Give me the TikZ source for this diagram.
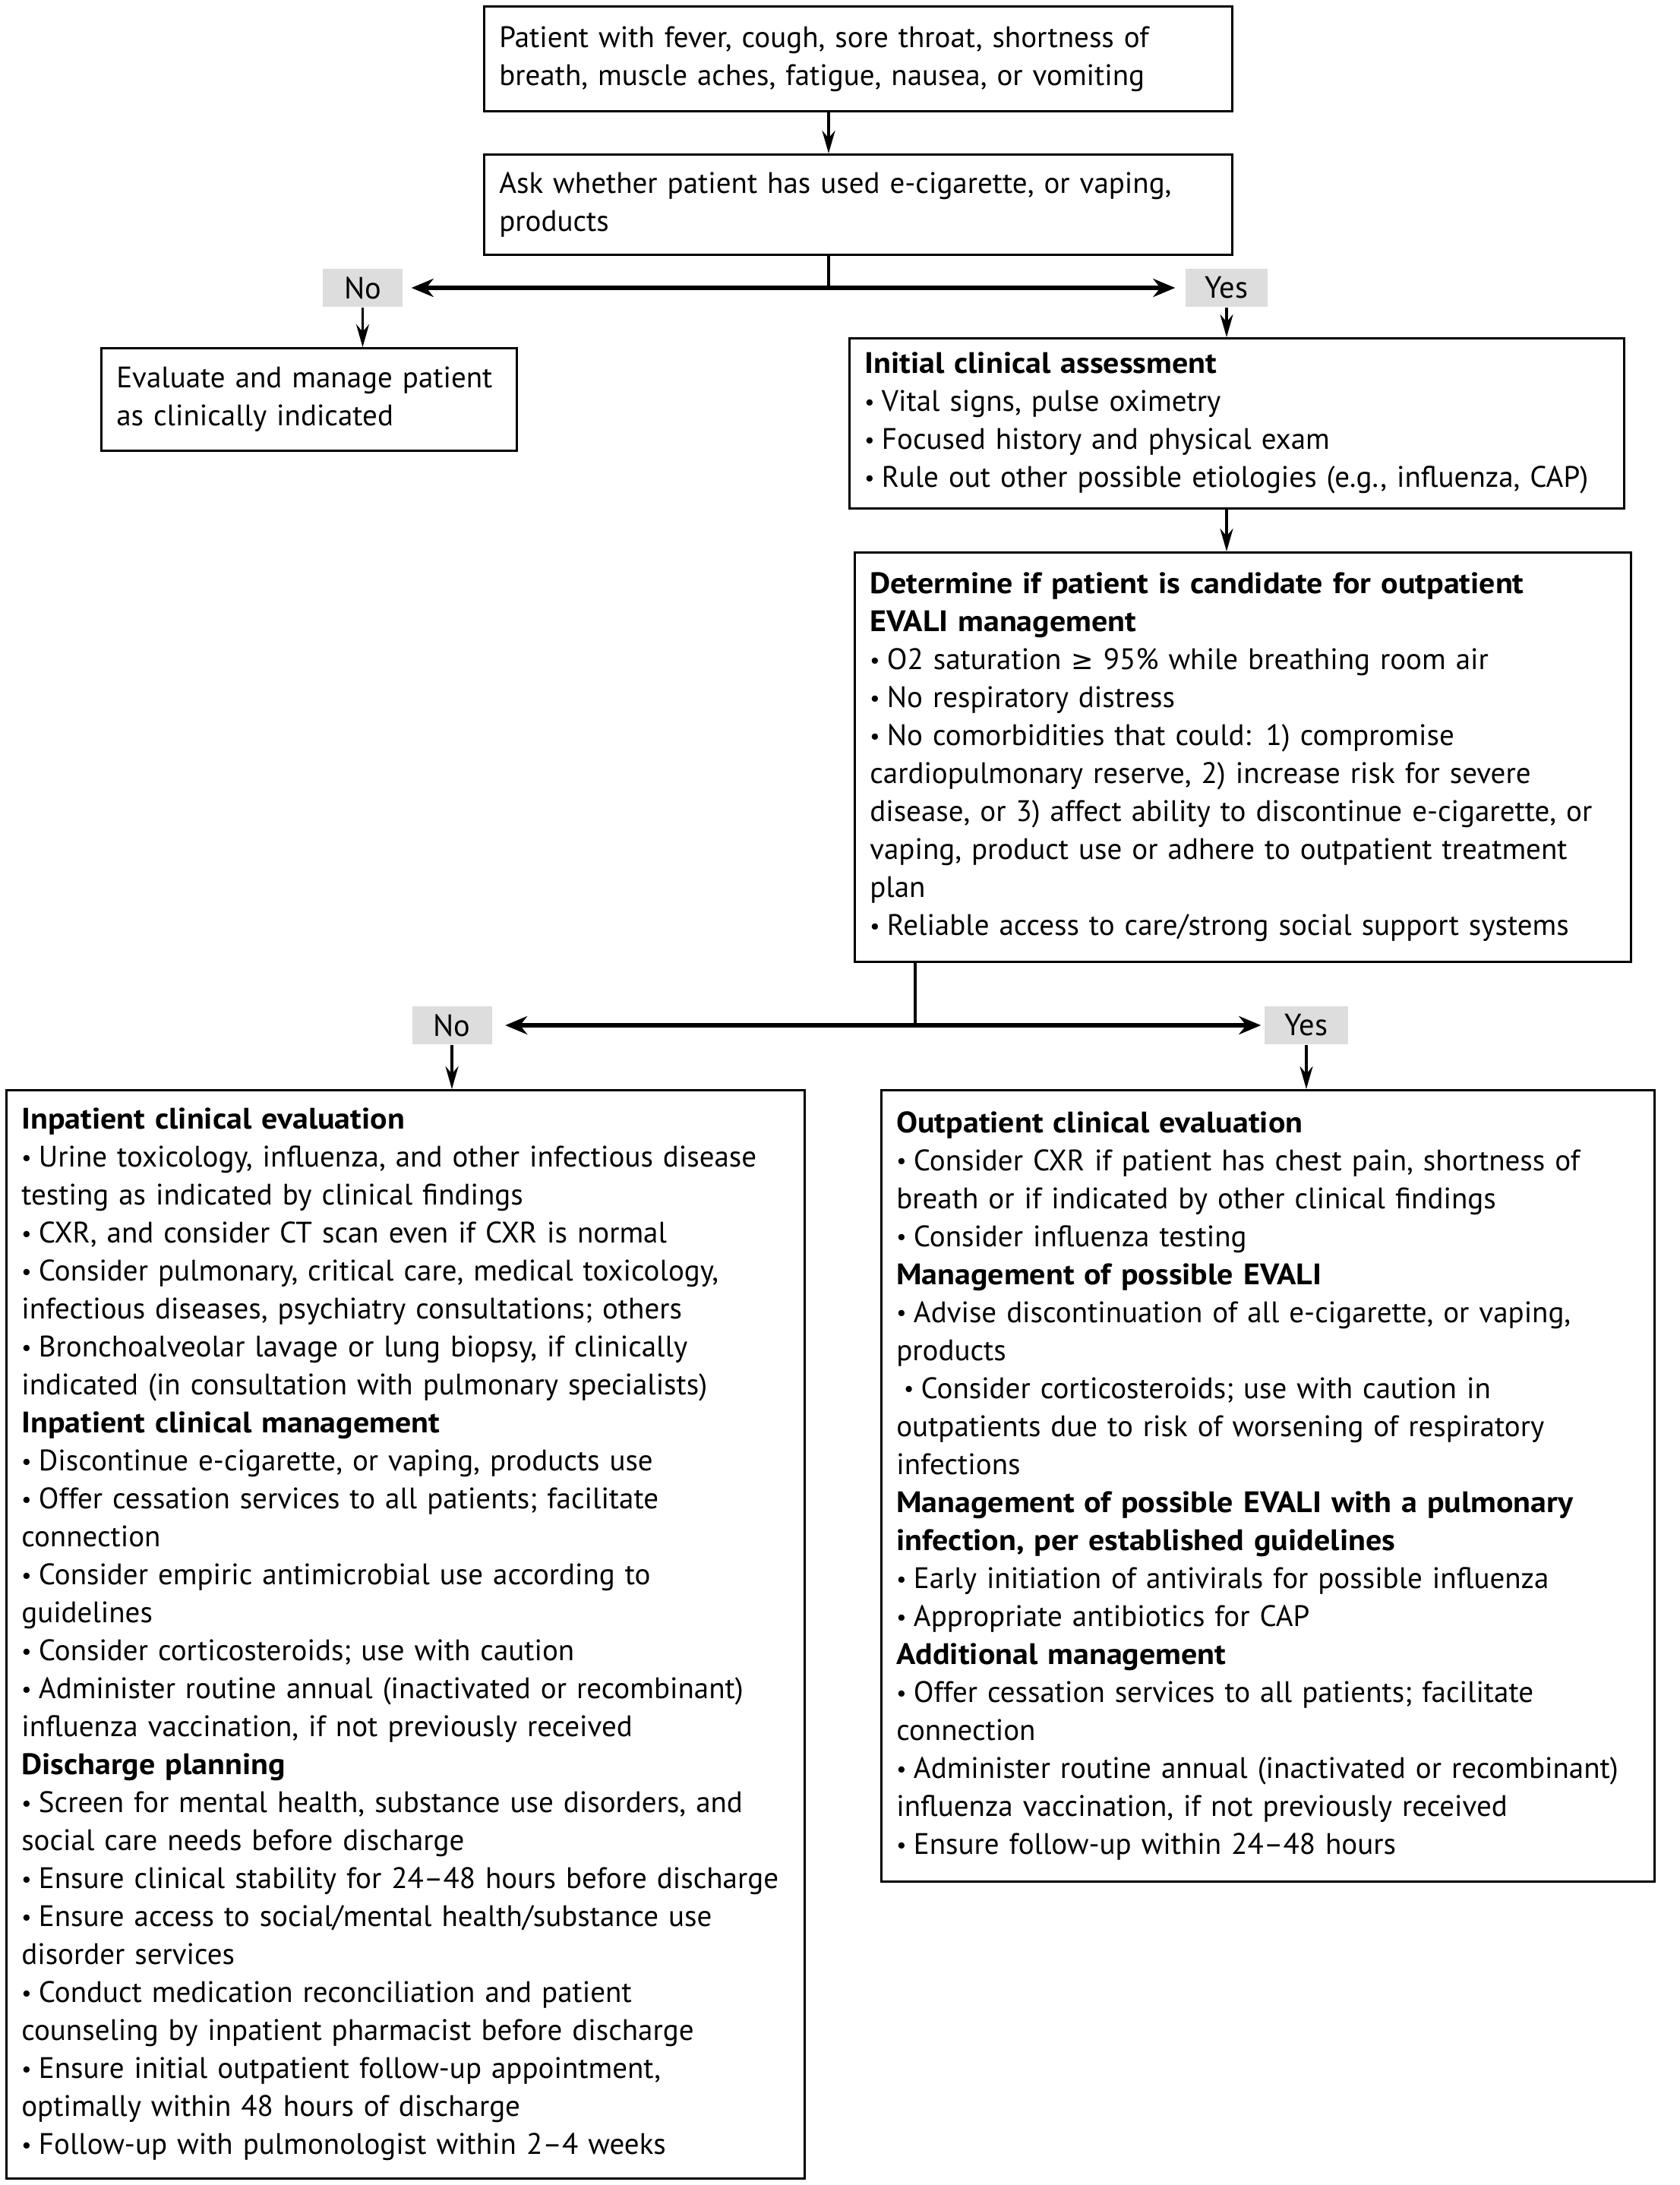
\documentclass[tikz,border=0pt]{standalone}
\usepackage{fontspec}
\setmainfont{PT Sans}[BoldFeatures={FakeStretch=1.075}]
\newfontfamily\symfont[Scale=0.9]{DejaVu Sans}
\usetikzlibrary{arrows.meta}
\definecolor{lblgray}{RGB}{221,221,221}
\newcommand{\bul}{\makebox[0.58em][l]{\raisebox{0.12ex}{\scalebox{0.75}{•}}}}

\begin{document}
\begin{tikzpicture}[x=1cm,y=-1cm,
    box/.style={draw,line width=0.75pt,anchor=north west,align=left,inner xsep=0.2cm,inner ysep=0pt,
      font=\fontsize{11.1}{14.23}\selectfont},
    lbl/.style={fill=lblgray,minimum height=0.5cm,inner sep=0pt,font=\fontsize{11.5}{12}\selectfont},
    stem/.style={line width=1.1pt},
    arr/.style={line width=1pt,-{Stealth[length=0.3cm,width=0.17cm]}},
    fork/.style={line width=1.7pt,{Stealth[length=0.29cm,width=0.24cm]}-{Stealth[length=0.29cm,width=0.24cm]}}]
  \useasboundingbox (0,0) rectangle (22.12,28.77);

  % top of the chart
  \node[box,text width=9.45cm,minimum height=1.38cm] (patient) at (6.36,0.07)
    {Patient with fever, cough, sore throat, shortness of\\breath, muscle aches, fatigue, nausea, or vomiting};
  \node[box,text width=9.45cm,minimum height=1.32cm] (ask) at (6.36,2.02)
    {Ask whether patient has used e-cigarette, or vaping,\\products};
  \draw[arr] (patient.south -| 10.91,0) -- (ask.north -| 10.91,0);

  % first decision
  \node[lbl,minimum width=1.05cm] (no1) at (4.775,3.79) {No};
  \node[lbl,minimum width=1.08cm] (yes1) at (16.15,3.79) {Yes};
  \coordinate (split1) at (10.91,3.79);
  \draw[stem] (split1 |- ask.south) -- (split1);
  \draw[fork,shorten <=0.11cm,shorten >=0.13cm] (no1.east) -- (yes1.west);

  \node[box,text width=5.07cm,minimum height=1.35cm] (eval) at (1.32,4.57)
    {Evaluate and manage patient\\as clinically indicated};
  \node[box,text width=9.80cm,minimum height=2.24cm] (init) at (11.17,4.44)
    {\textbf{Initial clinical assessment}\\
     \bul Vital signs, pulse oximetry\\
     \bul Focused history and physical exam\\
     \bul Rule out other possible etiologies (e.g., influenza, CAP)};
  \draw[arr] (no1.south) -- (no1.south |- eval.north);
  \draw[arr] (yes1.south) -- (yes1.south |- init.north);

  \node[box,text width=9.82cm,minimum height=5.39cm] (det) at (11.24,7.26)
    {\textbf{Determine if patient is candidate for outpatient}\\
     \textbf{EVALI management}\\
     \bul O2 saturation {\symfont ≥} 95\% while breathing room air\\
     \bul No respiratory distress\\
     \bul No comorbidities that could: 1) compromise\\
     cardiopulmonary reserve, 2) increase risk for severe\\
     disease, or 3) affect ability to discontinue e-cigarette, or\\
     vaping, product use or adhere to outpatient treatment\\
     plan\\
     \bul Reliable access to care/strong social support systems};
  \draw[arr] (yes1.south |- init.south) -- (yes1.south |- det.north);

  % second decision
  \node[lbl,minimum width=1.05cm] (no2) at (5.95,13.50) {No};
  \node[lbl,minimum width=1.10cm] (yes2) at (17.20,13.50) {Yes};
  \coordinate (split2) at (12.05,13.50);
  \draw[stem] (split2 |- det.south) -- (split2);
  \draw[fork,shorten <=0.17cm,shorten >=0.04cm] (no2.east) -- (yes2.west);

  \node[box,text width=10.11cm,minimum height=14.33cm] (inpat) at (0.07,14.34)
    {\textbf{Inpatient clinical evaluation}\\
     \bul Urine toxicology, influenza, and other infectious disease\\
     testing as indicated by clinical findings\\
     \bul CXR, and consider CT scan even if CXR is normal\\
     \bul Consider pulmonary, critical care, medical toxicology,\\
     infectious diseases, psychiatry consultations; others\\
     \bul Bronchoalveolar lavage or lung biopsy, if clinically\\
     indicated (in consultation with pulmonary specialists)\\
     \textbf{Inpatient clinical management}\\
     \bul Discontinue e-cigarette, or vaping, products use\\
     \bul Offer cessation services to all patients; facilitate\\
     connection\\
     \bul Consider empiric antimicrobial use according to\\
     guidelines\\
     \bul Consider corticosteroids; use with caution\\
     \bul Administer routine annual (inactivated or recombinant)\\
     influenza vaccination, if not previously received\\
     \textbf{Discharge planning}\\
     \bul Screen for mental health, substance use disorders, and\\
     social care needs before discharge\\
     \bul Ensure clinical stability for 24–48 hours before discharge\\
     \bul Ensure access to social/mental health/substance use\\
     disorder services\\
     \bul Conduct medication reconciliation and patient\\
     counseling by inpatient pharmacist before discharge\\
     \bul Ensure initial outpatient follow-up appointment,\\
     optimally within 48 hours of discharge\\
     \bul Follow-up with pulmonologist within 2–4 weeks};
  \node[box,text width=9.78cm,minimum height=10.42cm] (outpat) at (11.59,14.34)
    {\textbf{Outpatient clinical evaluation}\\
     \bul Consider CXR if patient has chest pain, shortness of\\
     breath or if indicated by other clinical findings\\
     \bul Consider influenza testing\\
     \textbf{Management of possible EVALI}\\
     \bul Advise discontinuation of all e-cigarette, or vaping,\\
     products\\
     \hspace{0.25em}\bul Consider corticosteroids; use with caution in\\
     outpatients due to risk of worsening of respiratory\\
     infections\\
     \textbf{Management of possible EVALI with a pulmonary}\\
     \textbf{infection, per established guidelines}\\
     \bul Early initiation of antivirals for possible influenza\\
     \bul Appropriate antibiotics for CAP\\
     \textbf{Additional management}\\
     \bul Offer cessation services to all patients; facilitate\\
     connection\\
     \bul Administer routine annual (inactivated or recombinant)\\
     influenza vaccination, if not previously received\\
     \bul Ensure follow-up within 24–48 hours};
  \draw[arr] (no2.south) -- (no2.south |- inpat.north);
  \draw[arr] (yes2.south) -- (yes2.south |- outpat.north);
\end{tikzpicture}
\end{document}
